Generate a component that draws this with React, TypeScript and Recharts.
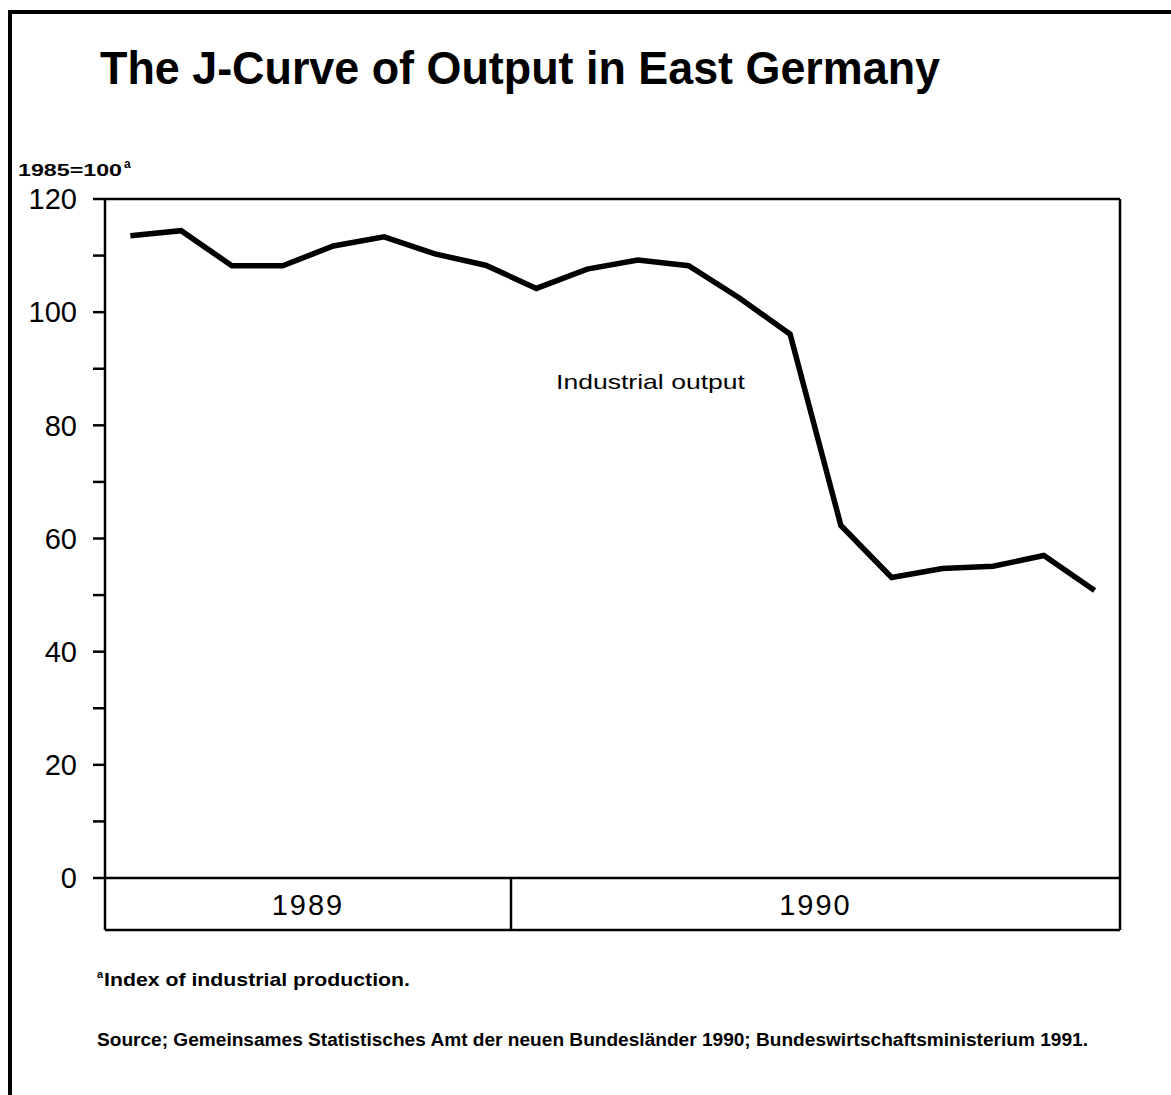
import { LineChart, Line, XAxis, YAxis } from "recharts";

// monthly index, 1985=100 (May 1989 - Dec 1990)
const months = [
  "May 89", "Jun 89", "Jul 89", "Aug 89", "Sep 89", "Oct 89", "Nov 89", "Dec 89",
  "Jan 90", "Feb 90", "Mar 90", "Apr 90", "May 90", "Jun 90", "Jul 90", "Aug 90",
  "Sep 90", "Oct 90", "Nov 90", "Dec 90",
];
const industrialOutput = [
  113.5, 114.4, 108.2, 108.2, 111.7, 113.3, 110.3, 108.3, 104.2, 107.6,
  109.2, 108.2, 102.5, 96.1, 62.3, 53.1, 54.7, 55.1, 57.0, 50.8,
];
const years = ["1989", "1990"];
const monthsPerYear = [8, 12];
const yTicks = [0, 10, 20, 30, 40, 50, 60, 70, 80, 90, 100, 110, 120];

const data = months.map((m, i) => ({ i, month: m, value: industrialOutput[i] }));

// year band edges and centres in month units
const edges: number[] = [-0.5];
monthsPerYear.forEach((n) => edges.push(edges[edges.length - 1] + n));
const centers = years.map((_, k) => (edges[k] + edges[k + 1]) / 2);
const domain: [number, number] = [edges[0], edges[edges.length - 1]];

const W = 1171;
const H = 1095;
const axisStroke = { stroke: "#000", strokeWidth: 2.5 };

const YearTick = (props: any) => {
  const { x, y, index } = props;
  return (
    <text
      x={x}
      y={y - 15}
      textAnchor="middle"
      fontFamily="'Liberation Sans', Arial, sans-serif"
      fontSize={29}
      letterSpacing={2}
      fill="#000"
    >
      {years[index]}
    </text>
  );
};

const NoTick = () => <g />;

export default function App() {
  return (
    <div style={{ position: "absolute", left: 0, top: 0, width: W, height: H, background: "#fff" }}>
      <LineChart
        width={W}
        height={H}
        data={data}
        margin={{ top: 198, right: 50, bottom: 155, left: 0 }}
      >
        <XAxis
          xAxisId="m"
          dataKey="i"
          type="number"
          domain={domain}
          allowDataOverflow
          ticks={edges}
          interval={0}
          height={52}
          tickSize={52}
          tick={<NoTick />}
          axisLine={axisStroke}
          tickLine={axisStroke}
        />
        <XAxis
          xAxisId="yr"
          dataKey="i"
          type="number"
          domain={domain}
          allowDataOverflow
          ticks={centers}
          interval={0}
          height={10}
          tickSize={0}
          tickMargin={0}
          tickLine={false}
          axisLine={axisStroke}
          tick={<YearTick />}
        />
        <XAxis
          xAxisId="top"
          dataKey="i"
          orientation="top"
          type="number"
          domain={domain}
          allowDataOverflow
          height={1}
          tick={<NoTick />}
          tickLine={false}
          axisLine={axisStroke}
        />
        <YAxis
          yAxisId="l"
          domain={[0, 120]}
          ticks={yTicks}
          interval={0}
          width={105}
          tickSize={12}
          tickMargin={16}
          tickFormatter={(v: number) => (v % 20 === 0 ? String(v) : "")}
          axisLine={axisStroke}
          tickLine={axisStroke}
          tick={{ fill: "#000", fontSize: 29, fontFamily: "'Liberation Sans', Arial, sans-serif" }}
        />
        <YAxis
          yAxisId="r"
          orientation="right"
          domain={[0, 120]}
          width={1}
          tick={<NoTick />}
          tickLine={false}
          axisLine={axisStroke}
        />
        <Line
          xAxisId="m"
          yAxisId="l"
          dataKey="value"
          stroke="#000"
          strokeWidth={5.5}
          dot={false}
          isAnimationActive={false}
        />
      </LineChart>
      <svg
        width={W}
        height={H}
        style={{ position: "absolute", left: 0, top: 0, pointerEvents: "none" }}
        fontFamily="'Liberation Sans', Arial, sans-serif"
      >
        <line x1={10} y1={10} x2={10} y2={H} stroke="#000" strokeWidth={4} />
        <line x1={8} y1={12} x2={W} y2={12} stroke="#000" strokeWidth={4} />
        <text x={100} y={84} fontSize={46} fontWeight="bold" textLength={840} lengthAdjust="spacingAndGlyphs">
          The J-Curve of Output in East Germany
        </text>
        <text x={18} y={176} fontSize={17} fontWeight="bold" textLength={104} lengthAdjust="spacingAndGlyphs">
          1985=100
        </text>
        <text x={124} y={168} fontSize={12} fontWeight="bold">a</text>
        <text x={556} y={389} fontSize={21} textLength={189} lengthAdjust="spacingAndGlyphs">
          Industrial output
        </text>
        <text x={97} y={978} fontSize={11} fontWeight="bold">a</text>
        <text x={104} y={986} fontSize={19} fontWeight="bold" textLength={306} lengthAdjust="spacingAndGlyphs">
          Index of industrial production.
        </text>
        <text x={97} y={1046} fontSize={18} fontWeight="bold" textLength={991} lengthAdjust="spacingAndGlyphs">
          Source; Gemeinsames Statistisches Amt der neuen Bundesländer 1990; Bundeswirtschaftsministerium 1991.
        </text>
      </svg>
    </div>
  );
}
